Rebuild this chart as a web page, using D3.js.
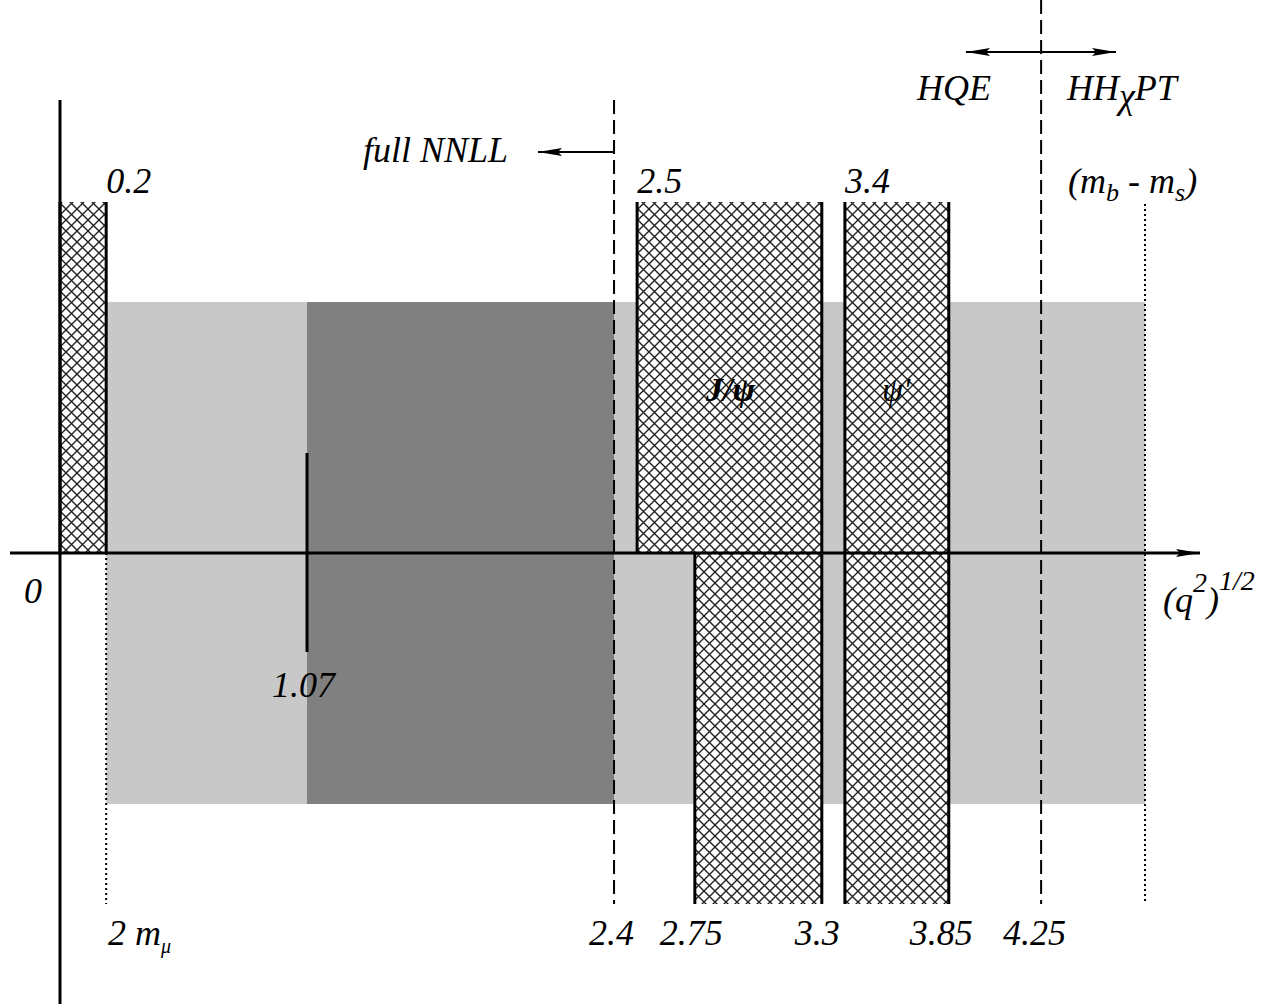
<!DOCTYPE html>
<html>
<head>
<meta charset="utf-8">
<script src="https://cdn.jsdelivr.net/npm/d3@7"></script>
<style>
  body { margin: 0; background: #fff; }
  text { font-family: "Liberation Serif", "Times New Roman", Tinos, "Nimbus Roman", "DejaVu Serif", "Noto Serif", serif; font-style: italic; fill: #000; }
</style>
</head>
<body>
<script>
// q-values (GeV) where things happen
let grayBand = [0.2, 4.7];          // light gray: 2 m_mu .. (m_b - m_s)
let darkBand = [1.07, 2.4];         // full NNLL dark region
let resonances = [
  {name: "low",  top: [0, 0.2],    bottom: null},
  {name: "jpsi", top: [2.5, 3.3],  bottom: [2.75, 3.3]},
  {name: "psi2", top: [3.4, 3.85], bottom: [3.4, 3.85]}
];
let dashedAt = [2.4, 4.25];
let dottedAt = [0.2, 4.7];
let tickAt = 1.07;

let topLabels = [
  {v: 0.2, text: "0.2"}, {v: 2.5, text: "2.5"}, {v: 3.4, text: "3.4"}
];
let bottomLabels = [
  {v: 2.4, text: "2.4", dx: -25}, {v: 2.75, text: "2.75", dx: -35},
  {v: 3.3, text: "3.3", dx: -27}, {v: 3.85, text: "3.85", dx: -39},
  {v: 4.25, text: "4.25", dx: -38}
];

let width = 1276, height = 1004;
let x = d3.scaleLinear().domain([0, 4.7]).range([60, 1145]);
let y = d3.scaleLinear().domain([-1, 1]).range([904, 202]);
let grayLevel = 0.715;

let svg = d3.select("body").append("svg").attr("width", width).attr("height", height);

let defs = svg.append("defs");
let pat = defs.append("pattern").attr("id", "hatch")
    .attr("patternUnits", "userSpaceOnUse").attr("width", 11).attr("height", 11);
pat.append("rect").attr("width", 11).attr("height", 11).attr("fill", "#fff");
pat.append("path").attr("d", "M0,0L11,11M11,0L0,11M-1,10L1,12M10,-1L12,1")
    .attr("stroke", "#222").attr("stroke-width", 1.4);

let arrowBig = defs.append("marker").attr("id", "arrBig")
    .attr("viewBox", "0 0 24 8").attr("refX", 24).attr("refY", 4)
    .attr("markerWidth", 24).attr("markerHeight", 8).attr("markerUnits", "userSpaceOnUse")
    .attr("orient", "auto-start-reverse");
arrowBig.append("path").attr("d", "M0,0L24,4L0,8L4,4Z").attr("fill", "#000");

// shaded bands
svg.append("rect")
    .attr("x", x(grayBand[0])).attr("width", x(grayBand[1]) - x(grayBand[0]))
    .attr("y", y(grayLevel)).attr("height", y(-grayLevel) - y(grayLevel))
    .attr("fill", "#c8c8c8");
svg.append("rect")
    .attr("x", x(darkBand[0])).attr("width", x(darkBand[1]) - x(darkBand[0]))
    .attr("y", y(grayLevel)).attr("height", y(-grayLevel) - y(grayLevel))
    .attr("fill", "#808080");

// hatched resonance regions
resonances.forEach(r => {
  let parts = [];
  if (r.top) parts.push({a: r.top[0], b: r.top[1], y0: y(1), y1: y(0)});
  if (r.bottom) parts.push({a: r.bottom[0], b: r.bottom[1], y0: y(0), y1: y(-1)});
  parts.forEach(p => {
    svg.append("rect").attr("x", x(p.a)).attr("width", x(p.b) - x(p.a))
      .attr("y", p.y0).attr("height", p.y1 - p.y0).attr("fill", "url(#hatch)");
    svg.append("line").attr("x1", x(p.a)).attr("x2", x(p.a)).attr("y1", p.y0).attr("y2", p.y1)
      .attr("stroke", "#000").attr("stroke-width", 3);
    svg.append("line").attr("x1", x(p.b)).attr("x2", x(p.b)).attr("y1", p.y0).attr("y2", p.y1)
      .attr("stroke", "#000").attr("stroke-width", 3);
  });
});

// dotted lines
svg.selectAll("line.dot").data(dottedAt).enter().append("line")
    .attr("class", "dot")
    .attr("x1", d => x(d)).attr("x2", d => x(d))
    .attr("y1", (d, i) => i === 0 ? y(0) : y(1) + 2).attr("y2", y(-1))
    .attr("stroke", "#000").attr("stroke-width", 2).attr("stroke-dasharray", "2,3");

// dashed lines
svg.selectAll("line.dash").data(dashedAt).enter().append("line")
    .attr("class", "dash")
    .attr("x1", d => x(d)).attr("x2", d => x(d))
    .attr("y1", (d, i) => i === 0 ? 100 : 0).attr("y2", y(-1))
    .attr("stroke", "#000").attr("stroke-width", 2).attr("stroke-dasharray", "14,6");

// tick at 1.07
svg.append("line").attr("x1", x(tickAt)).attr("x2", x(tickAt))
    .attr("y1", 453).attr("y2", 652).attr("stroke", "#000").attr("stroke-width", 3);

// axes
svg.append("line").attr("x1", x(0)).attr("x2", x(0)).attr("y1", 100).attr("y2", height)
    .attr("stroke", "#000").attr("stroke-width", 3);
svg.append("line").attr("x1", 10).attr("x2", 1200).attr("y1", y(0)).attr("y2", y(0))
    .attr("stroke", "#000").attr("stroke-width", 3).attr("marker-end", "url(#arrBig)");

// arrows
svg.append("line").attr("x1", x(2.4)).attr("x2", 538).attr("y1", 152).attr("y2", 152)
    .attr("stroke", "#000").attr("stroke-width", 2).attr("marker-end", "url(#arrBig)");
svg.append("line").attr("x1", 966).attr("x2", 1116).attr("y1", 52).attr("y2", 52)
    .attr("stroke", "#000").attr("stroke-width", 2)
    .attr("marker-start", "url(#arrBig)").attr("marker-end", "url(#arrBig)");

// labels
let fs = 36;
svg.selectAll("text.top").data(topLabels).enter().append("text")
    .attr("x", d => x(d.v)).attr("y", 193).attr("font-size", fs).text(d => d.text);
svg.selectAll("text.bot").data(bottomLabels).enter().append("text")
    .attr("x", d => x(d.v) + d.dx).attr("y", 945).attr("font-size", fs).text(d => d.text);

svg.append("text").attr("x", 363).attr("y", 162).attr("font-size", fs).text("full NNLL");
svg.append("text").attr("x", 917).attr("y", 100).attr("font-size", fs).text("HQE");
let hh = svg.append("text").attr("x", 1067).attr("y", 100).attr("font-size", fs);
hh.append("tspan").text("HH");
hh.append("tspan").attr("dy", 8).text("\u03c7");
hh.append("tspan").attr("dy", -8).text("PT");

let mb = svg.append("text").attr("x", 1068).attr("y", 193).attr("font-size", fs);
mb.append("tspan").text("(m");
mb.append("tspan").attr("dy", 8).attr("font-size", 26).text("b");
mb.append("tspan").attr("dy", -8).text(" - m");
mb.append("tspan").attr("dy", 8).attr("font-size", 26).text("s");
mb.append("tspan").attr("dy", -8).text(")");

svg.append("text").attr("x", 24).attr("y", 603).attr("font-size", fs).text("0");
svg.append("text").attr("x", 272).attr("y", 697).attr("font-size", fs).text("1.07");

let q = svg.append("text").attr("x", 1163).attr("y", 612).attr("font-size", fs);
q.append("tspan").text("(q");
q.append("tspan").attr("dy", -20).attr("font-size", 28).text("2");
q.append("tspan").attr("dy", 20).text(")");
q.append("tspan").attr("dy", -22).attr("font-size", 28).text("1/2");

let mm = svg.append("text").attr("x", 108).attr("y", 945).attr("font-size", fs);
mm.append("tspan").text("2 m");
mm.append("tspan").attr("dy", 8).attr("font-size", 20).text("\u03bc");

svg.append("text").attr("x", 706).attr("y", 401).attr("font-size", 34)
    .attr("font-weight", "bold").text("J/\u03c8");
svg.append("text").attr("x", 882).attr("y", 401).attr("font-size", 34).text("\u03c8'");
</script>
</body>
</html>
